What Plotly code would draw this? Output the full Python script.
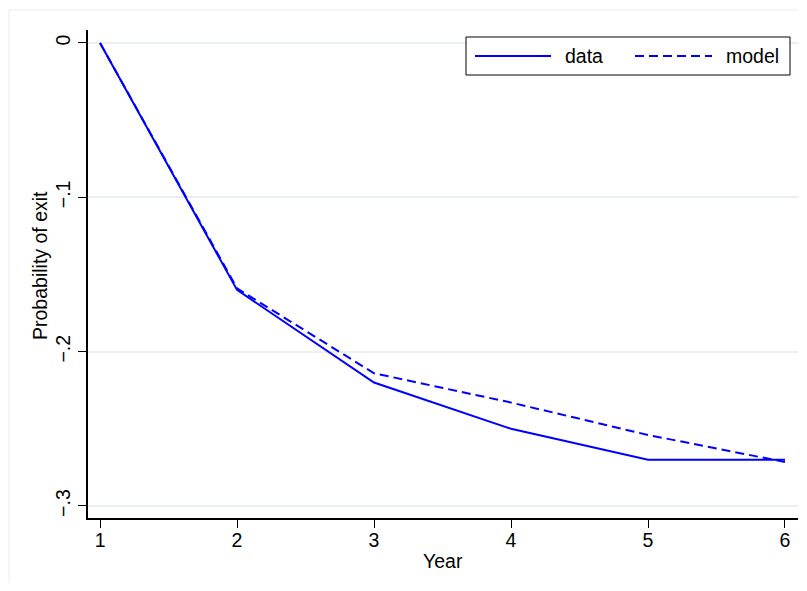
import plotly.graph_objects as go

years = [1, 2, 3, 4, 5, 6]
data_vals = [0.0, -0.16, -0.22, -0.25, -0.27, -0.27]
model_vals = [0.0, -0.159, -0.214, -0.233, -0.254, -0.2715]
y_ticks = [0, -0.1, -0.2, -0.3]
y_tick_labels = ["0", "\u2212.1", "\u2212.2", "\u2212.3"]
x_ticks = [1, 2, 3, 4, 5, 6]

# page body has an 8px margin, so figure coords = screen coords - 8
OFF = 8
W, H = 791, 575
L, T = 88 - OFF, 30 - OFF
R = W - (798 - OFF)
B = H - (518 - OFF)
PW, PH = W - L - R, H - T - B
FONT = "Liberation Sans, Arial, sans-serif"
FS = 19.5
BLUE = "#0000ff"

def px(x):
    return (x - OFF - L) / PW

def py(y):
    return (H - B - (y - OFF)) / PH

fig = go.Figure()
fig.add_trace(go.Scatter(x=years, y=data_vals, mode="lines", name="data",
                         line=dict(color=BLUE, width=2)))
fig.add_trace(go.Scatter(x=years, y=model_vals, mode="lines", name="model",
                         line=dict(color=BLUE, width=2, dash="9px,5px")))

shapes = [
    dict(type="line", xref="paper", yref="paper", x0=px(9), x1=px(9), y0=py(588), y1=py(10),
         line=dict(color="#e8eef0", width=1), layer="below"),
    dict(type="line", xref="paper", yref="paper", x0=px(9), x1=px(798), y0=py(10), y1=py(10),
         line=dict(color="#e8eef0", width=1), layer="below"),
    dict(type="rect", xref="paper", yref="paper", x0=px(466), x1=px(790), y0=py(75), y1=py(37),
         line=dict(color="#000000", width=1), fillcolor="white"),
    dict(type="line", xref="paper", yref="paper", x0=px(475), x1=px(551), y0=py(56), y1=py(56),
         line=dict(color=BLUE, width=2)),
    dict(type="line", xref="paper", yref="paper", x0=px(635), x1=px(712), y0=py(56), y1=py(56),
         line=dict(color=BLUE, width=2, dash="9px,5px")),
]
annotations = [
    dict(text="data", xref="paper", yref="paper", x=px(563), y=py(56), xanchor="left",
         yanchor="middle", showarrow=False, font=dict(family=FONT, size=FS, color="black")),
    dict(text="model", xref="paper", yref="paper", x=px(724), y=py(56), xanchor="left",
         yanchor="middle", showarrow=False, font=dict(family=FONT, size=FS, color="black")),
    dict(text="Year", xref="paper", yref="paper", x=px(443), y=py(561), xanchor="center",
         yanchor="middle", showarrow=False, font=dict(family=FONT, size=FS, color="black")),
    dict(text="Probability of exit", xref="paper", yref="paper", x=px(40), y=py(266),
         xanchor="center", yanchor="middle", textangle=-90, showarrow=False,
         font=dict(family=FONT, size=FS, color="black")),
]

fig.update_layout(
    width=W, height=H,
    margin=dict(l=L, r=R, t=T, b=B),
    paper_bgcolor="white", plot_bgcolor="white",
    showlegend=False,
    font=dict(family=FONT, size=FS, color="black"),
    shapes=shapes, annotations=annotations,
    xaxis=dict(range=[0.912, 6.095], tickvals=x_ticks, ticks="outside", ticklen=8,
               tickwidth=1, tickcolor="black", showline=True, linecolor="black", linewidth=1.5,
               showgrid=False, zeroline=False, automargin=False, ticklabelstandoff=-4,
               tickfont=dict(size=FS)),
    yaxis=dict(range=[-0.3078, 0.0084], tickvals=y_ticks, ticktext=y_tick_labels,
               tickangle=-90, ticks="outside", ticklen=8, tickwidth=1, tickcolor="black",
               showline=True, linecolor="black", linewidth=1.5, automargin=False,
               showgrid=True, gridcolor="#eaeff2", gridwidth=1.5, zeroline=False,
               tickfont=dict(size=FS)),
)

fig.write_html("out.html")
